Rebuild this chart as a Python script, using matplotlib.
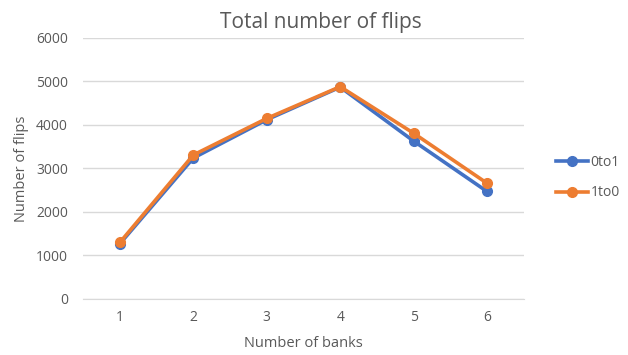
import matplotlib
matplotlib.use("Agg")
import matplotlib.pyplot as plt

categories = [1, 2, 3, 4, 5, 6]
s0to1 = [1270, 3240, 4120, 4870, 3630, 2470]
s1to0 = [1300, 3310, 4150, 4880, 3810, 2660]
series_names = ["0to1", "1to0"]
yticks = [0, 1000, 2000, 3000, 4000, 5000, 6000]

plt.rcParams['font.family'] = ['Open Sans', 'DejaVu Sans']
gray = '#595959'

fig = plt.figure(figsize=(6.28, 3.55), dpi=100)
ax = fig.add_axes([0.1325, 0.158, 0.7015, 0.735])

xpos = list(range(len(categories)))
l1, = ax.plot(xpos, s0to1, color='#4472C4', lw=2.6, marker='o', ms=7, solid_joinstyle='round')
l2, = ax.plot(xpos, s1to0, color='#ED7D31', lw=2.6, marker='o', ms=7, solid_joinstyle='round')

ax.set_xlim(-0.5, len(categories) - 0.5)
ax.set_ylim(0, 6000)
ax.set_yticks(yticks)
ax.set_yticklabels([str(t) for t in yticks])
ax.set_xticks(xpos)
ax.set_xticklabels([str(c) for c in categories])
ax.grid(axis='y', color='#D9D9D9', lw=1)
ax.set_axisbelow(True)
for s in ['top', 'right', 'left']:
    ax.spines[s].set_visible(False)
ax.spines['bottom'].set_color('#D9D9D9')
ax.tick_params(axis='both', length=0, labelsize=10, labelcolor=gray)
ax.tick_params(axis='y', pad=11)
ax.tick_params(axis='x', pad=8)

fig.text(0.511, 0.937, "Total number of flips", fontsize=15, color=gray,
         ha='center', va='center')
ax.set_xlabel("Number of banks", fontsize=10.5, color=gray, labelpad=8)
ax.set_ylabel("Number of flips", fontsize=10.5, color=gray, labelpad=5)

fig.legend([l1, l2], series_names, loc='center left', bbox_to_anchor=(0.865, 0.5),
           frameon=False, fontsize=10, labelcolor=gray, handlelength=2.3,
           handletextpad=0.2, labelspacing=1.15)

fig.savefig("out.png", dpi=100)
